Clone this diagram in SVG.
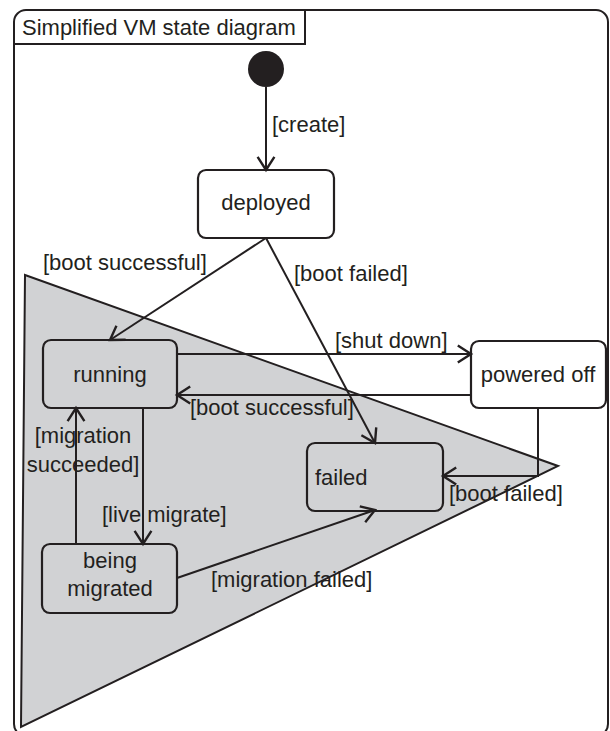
<svg xmlns="http://www.w3.org/2000/svg" width="610" height="731" viewBox="0 0 610 731">
<style>
text{font-family:"Liberation Sans",Arial,sans-serif;font-size:22px;fill:#231f20}
.st{stroke:#231f20;stroke-width:2}
.box{stroke:#231f20;stroke-width:2.2}
.c{fill:none;stroke:#231f20;stroke-width:2}
.mid{text-anchor:middle}
</style>
<defs>
<marker id="arr" markerUnits="userSpaceOnUse" markerWidth="24" markerHeight="24" viewBox="-14 -10 16 20" refX="0" refY="0" orient="auto">
<path d="M-11,-7 L0,0 L-11,7" fill="none" stroke="#231f20" stroke-width="2"/>
</marker>
</defs>
<rect id="frame" x="14" y="10" width="594" height="726" rx="12" fill="#fff" class="st"/>
<g id="title">
<path d="M14,44 L305,44 L305,10" fill="none" class="st"/>
<text x="22" y="35">Simplified VM state diagram</text>
</g>
<polygon id="region" points="25,275 558,466 21,727" fill="#d1d2d4" class="st"/>
<g id="initial"><circle cx="266" cy="69" r="18" fill="#231f20"/></g>
<g id="deployed"><rect x="198" y="170" width="136" height="68" rx="8" fill="#fff" class="box"/><text x="266" y="210" class="mid">deployed</text></g>
<g id="running"><rect x="43" y="340" width="134" height="68" rx="8" fill="#d1d2d4" class="box"/><text x="110" y="382" class="mid">running</text></g>
<g id="powered-off"><rect x="471" y="341" width="135" height="67" rx="8" fill="#fff" class="box"/><text x="538" y="382" class="mid">powered off</text></g>
<g id="failed"><rect x="307" y="443" width="136" height="68" rx="8" fill="#d1d2d4" class="box"/><text x="315" y="485">failed</text></g>
<g id="being-migrated"><rect x="42" y="544" width="135" height="69" rx="8" fill="#d1d2d4" class="box"/><text x="110" y="568" class="mid">being</text><text x="110" y="596" class="mid">migrated</text></g>
<g id="connectors">
<path class="c" d="M266,87 L266,170" marker-end="url(#arr)"/>
<path class="c" d="M266,238 L110,340" marker-end="url(#arr)"/>
<path class="c" d="M266,238 L375,443" marker-end="url(#arr)"/>
<path class="c" d="M177,354 L471,354" marker-end="url(#arr)"/>
<path class="c" d="M471,395 L177,395" marker-end="url(#arr)"/>
<path class="c" d="M538,408 L538,476 L443,476" marker-end="url(#arr)"/>
<path class="c" d="M143,408 L143,544" marker-end="url(#arr)"/>
<path class="c" d="M76,544 L76,408" marker-end="url(#arr)"/>
<path class="c" d="M177,578 L375,510" marker-end="url(#arr)"/>
</g>
<g id="labels">
<text x="272" y="132">[create]</text>
<text x="43" y="270">[boot successful]</text>
<text x="294" y="281">[boot failed]</text>
<text x="335" y="348">[shut down]</text>
<text x="190" y="415">[boot successful]</text>
<text x="83" y="443" class="mid">[migration</text>
<text x="83" y="472" class="mid">succeeded]</text>
<text x="449" y="501">[boot failed]</text>
<text x="102" y="522">[live migrate]</text>
<text x="211" y="587">[migration failed]</text>
</g>
</svg>
